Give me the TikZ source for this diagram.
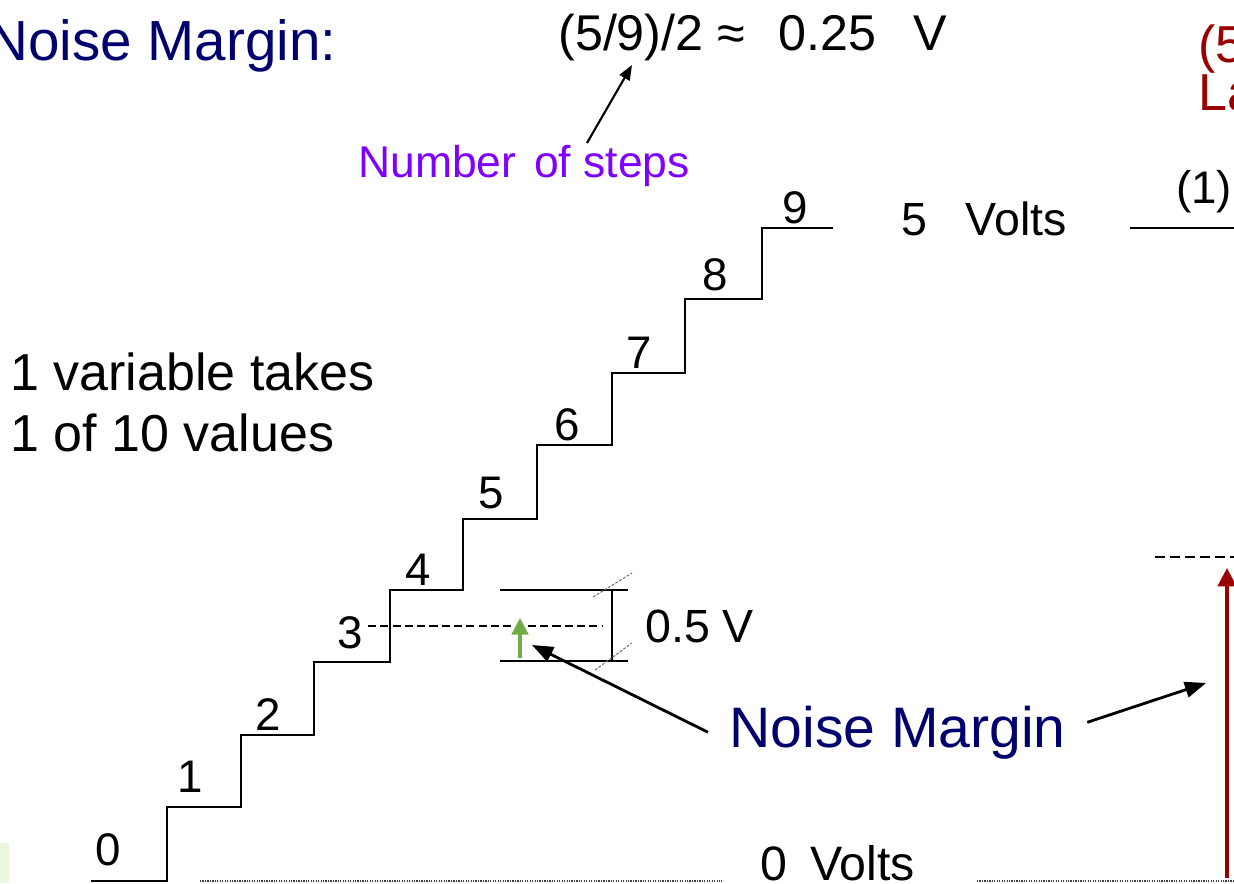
\documentclass[tikz,border=0pt]{standalone}
\usepackage{fontspec}
\setmainfont{Liberation Sans}
\usetikzlibrary{arrows.meta}

\definecolor{navy}{RGB}{0,0,110}
\definecolor{stepviolet}{RGB}{128,0,255}
\definecolor{darkred}{RGB}{153,0,0}
\definecolor{levelgreen}{RGB}{112,173,71}
\definecolor{patchgreen}{RGB}{236,246,222}

\begin{document}
\begin{tikzpicture}[
  x=0.02cm,
  y=-0.02cm,
  plain text/.style={inner sep=0pt, anchor=base west},
  step digit/.style={inner sep=0pt, anchor=base,
    font=\fontsize{26}{30}\selectfont},
  stair/.style={draw=black, line width=1.2pt, line join=miter},
  level dash/.style={draw=black, line width=1.3pt,
    dash pattern=on 4.6pt off 2.4pt},
  ground dots/.style={draw=black!75, line width=0.9pt,
    dash pattern=on 0.7pt off 0.7pt},
  tick dash/.style={draw=black!55, line width=0.6pt,
    dash pattern=on 1.6pt off 0.9pt},
  pointer/.style={draw=black, line width=1.6pt,
    -{Triangle[length=12pt,width=9pt]}},
  small pointer/.style={draw=black, line width=1.2pt,
    -{Triangle[length=8.5pt,width=6.5pt]}},
  green rise/.style={draw=levelgreen, line width=1.8pt,
    -{Triangle[length=9.5pt,width=9.5pt]}},
  red rise/.style={draw=darkred, line width=1.9pt,
    -{Triangle[length=10.5pt,width=10.5pt]}}
]
  \path[use as bounding box] (0,0) rectangle (1234,883);

  % Cut-off patch at the lower left.
  \fill[patchgreen] (0,843) rectangle (9,883);

  % Titles.
  \node[plain text, text=navy, font=\fontsize{32.2}{36}\selectfont]
    (title) at (-13,60) {Noise Margin:};
  \node[plain text, font=\fontsize{28.6}{32}\selectfont] (formula)
    at (558,50) {(5/9)/2 ≈\hspace{19pt}0.25\hspace{21pt}V};
  \node[plain text, text=stepviolet, font=\fontsize{25.3}{30}\selectfont]
    (steps) at (358,177) {Number\hspace{3pt} of steps};
  \coordinate (stepstail) at (587,143);
  \coordinate (stepstip) at (632,65);
  \draw[small pointer] (stepstail) -- (stepstip);

  \node[plain text, text=darkred, font=\fontsize{29.6}{34}\selectfont]
    (redtop) at (1198,62) {(5};
  \node[plain text, text=darkred, font=\fontsize{29.6}{34}\selectfont]
    (redbottom) at (1198,110) {La};

  \node[plain text, font=\fontsize{29.6}{34}\selectfont] (takes)
    at (10,390) {1 variable takes};
  \node[plain text, font=\fontsize{29.6}{34}\selectfont] (values)
    at (10,451) {1 of 10 values};

  % Staircase of ten levels.
  \draw[stair] (91,881) -- (167,881) -- (167,807) -- (241,807)
    -- (241,735) -- (314,735) -- (314,662) -- (390,662)
    -- (390,590) -- (463,590) -- (463,519) -- (537,519)
    -- (537,445) -- (612,445) -- (612,373) -- (685,373)
    -- (685,299) -- (762,299) -- (762,228) -- (833,228);
  \node[step digit] (d0) at (108,865) {0};
  \node[step digit] (d1) at (190,792) {1};
  \node[step digit] (d2) at (268,730) {2};
  \node[step digit] (d3) at (350,648) {3};
  \node[step digit] (d4) at (418,585) {4};
  \node[step digit] (d5) at (491,508) {5};
  \node[step digit] (d6) at (567,440) {6};
  \node[step digit] (d7) at (639,368) {7};
  \node[step digit] (d8) at (715,290) {8};
  \node[step digit] (d9) at (795,223) {9};

  % Supply levels.
  \node[plain text, font=\fontsize{26.5}{30}\selectfont] (high)
    at (901,235) {5\hspace{22pt}Volts};
  \draw[line width=1.2pt] (1130,228) -- (1234,228);
  \node[plain text, font=\fontsize{26}{30}\selectfont] (one)
    at (1176,203) {(1)};
  \node[plain text, font=\fontsize{27.5}{32}\selectfont] (low)
    at (760,880) {0\hspace{13pt}Volts};
  \draw[ground dots] (200,881) -- (722,881);
  \draw[ground dots] (977,881) -- (1234,881);

  % Half-step band around level 3.
  \draw[level dash] (368,626) -- (603,626);
  \draw[line width=1.2pt] (500,590) -- (628,590);
  \draw[line width=1.2pt] (500,661) -- (628,661);
  \draw[line width=1pt] (612,590) -- (612,661);
  \draw[tick dash] (593,597) -- (632,573);
  \draw[tick dash] (595,670) -- (632,643);
  \node[plain text, font=\fontsize{26.5}{30}\selectfont] (band)
    at (645,642) {0.5 V};
  \coordinate (gbase) at (520,658);
  \coordinate (gtip) at (520,618);
  \draw[green rise] (gbase) -- (gtip);

  % Right-hand margin.
  \draw[level dash, line width=1.6pt, dash pattern=on 5.7pt off 2.8pt]
    (1155,557) -- (1234,557);
  \coordinate (rbase) at (1227,878);
  \coordinate (rtip) at (1227,568);
  \draw[red rise] (rbase) -- (rtip);

  % Label and its two pointers.
  \node[plain text, inner xsep=12pt, text=navy,
    font=\fontsize{32.5}{38}\selectfont] (nm) at (708,747) {Noise Margin};
  \coordinate (nmleft) at (532,645);
  \coordinate (nmright) at (1206,683);
  \draw[pointer] (nm.west) -- (nmleft);
  \draw[pointer] (nm.3) -- (nmright);
\end{tikzpicture}
\end{document}
